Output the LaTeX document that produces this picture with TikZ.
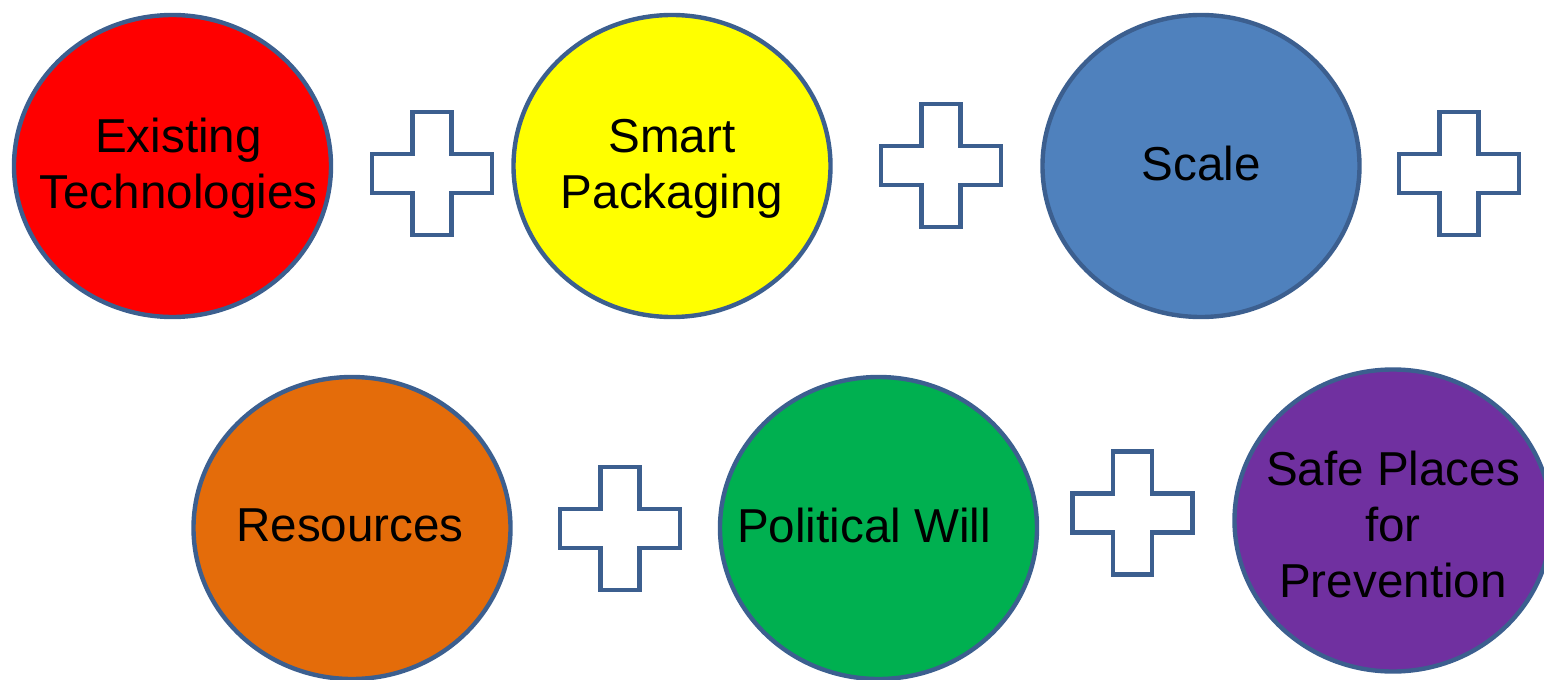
\documentclass[tikz,border=0pt]{standalone}
\usepackage{fontspec}
\setmainfont{Liberation Sans}
\usepackage{tikz}
\usetikzlibrary{shapes.geometric}

\definecolor{rim}{HTML}{3C5F8F}
\definecolor{techred}{HTML}{FF0000}
\definecolor{packyellow}{HTML}{FFFF00}
\definecolor{scaleblue}{HTML}{4F81BD}
\definecolor{resorange}{HTML}{E46C0A}
\definecolor{willgreen}{HTML}{00B050}
\definecolor{safepurple}{HTML}{7030A0}

\tikzset{
  blob/.style={ellipse, draw=rim, line width=2.2pt, minimum width=158.5pt,
    minimum height=151pt, inner sep=0pt},
  lbl/.style={align=center, font=\fontsize{23.8}{28}\selectfont, text depth=0.25em},
  plusbox/.style={draw=rim, fill=white, line width=2.2pt, line join=miter}
}

\begin{document}
\begin{tikzpicture}[x=0.5pt, y=-0.5pt]
  \useasboundingbox (0,0) rectangle (1544,680);

  % Define nodes
  \node[blob, fill=techred]    (tech)  at (172.5,166) {};
  \node[blob, fill=packyellow] (pack)  at (672,166)   {};
  \node[blob, fill=scaleblue]  (scale) at (1201,166)  {};
  \node[blob, fill=resorange]  (res)   at (352,528)   {};
  \node[blob, fill=willgreen]  (will)  at (878.5,528) {};
  \node[blob, fill=safepurple] (safe)  at (1393,520.5) {};

  % Labels
  \node[lbl] (tech-l)  at ([xshift=3pt]tech.center) {Existing\\Technologies};
  \node[lbl] (pack-l)  at (pack)  {Smart\\Packaging};
  \node[lbl] (scale-l) at (scale) {Scale};
  \node[lbl] (res-l)   at ([xshift=-1pt]res.center) {Resources};
  \node[lbl] (will-l)  at ([xshift=-7.25pt]will.center) {Political Will};
  \node[lbl] (safe-l)  at ([yshift=-3pt]safe.center) {Safe Places\\for\\Prevention};

  % Plus signs
  \foreach \cx/\cy in {432/173.5, 941/165.5, 1459/173.5, 620/528.5, 1132.5/513}
    \draw[plusbox] (\cx-19.5,\cy-61.5) -- ++(39,0) -- ++(0,42) -- ++(40.5,0)
      -- ++(0,39) -- ++(-40.5,0) -- ++(0,42) -- ++(-39,0) -- ++(0,-42)
      -- ++(-40.5,0) -- ++(0,-39) -- ++(40.5,0) -- cycle;
\end{tikzpicture}
\end{document}
